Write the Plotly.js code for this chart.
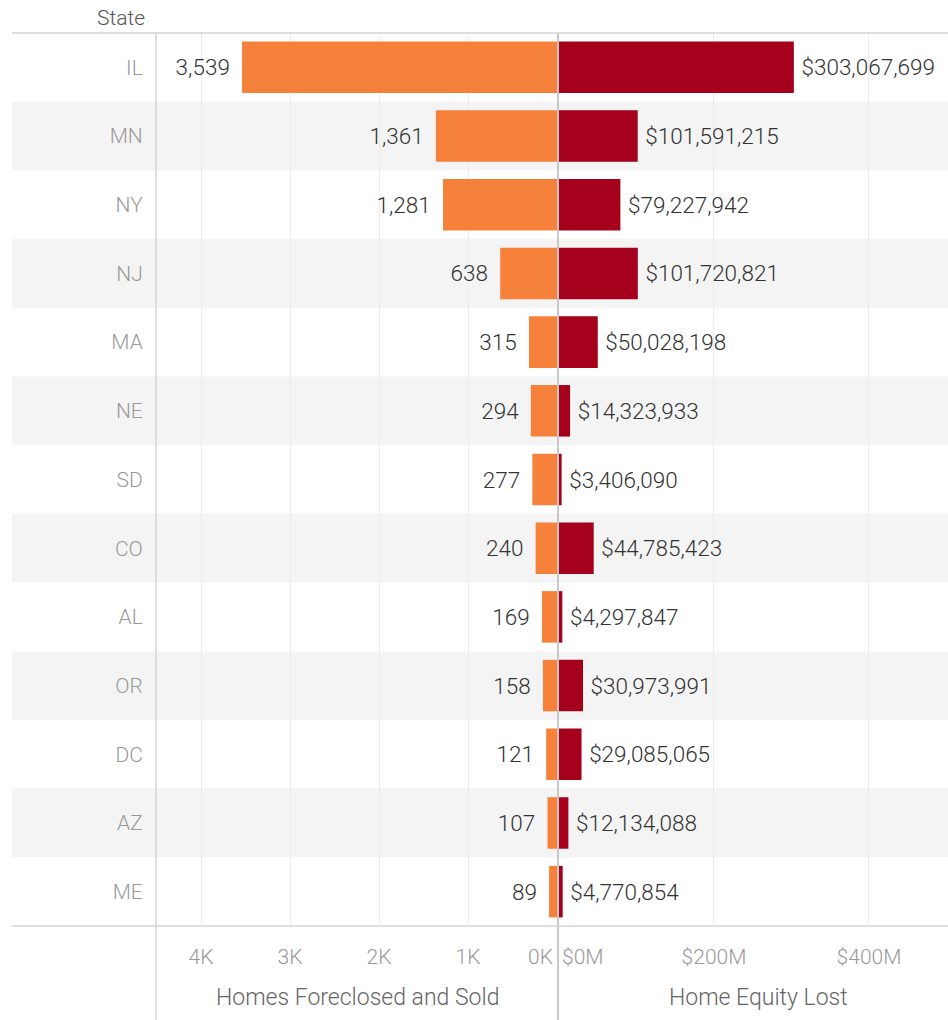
<!DOCTYPE html>
<html>
<head>
<meta charset="utf-8">
<script src="https://cdn.plot.ly/plotly-3.0.1.min.js"></script>
<style>html,body{margin:0;padding:0;background:#fff;}#chart{width:948px;height:1020px;}</style>
</head>
<body>
<div id="chart"></div>
<script>
const states = ["IL","MN","NY","NJ","MA","NE","SD","CO","AL","OR","DC","AZ","ME"];
const homesForeclosed = [3539,1361,1281,638,315,294,277,240,169,158,121,107,89];
const equityLost = [303067699,101591215,79227942,101720821,50028198,14323933,3406090,44785423,4297847,30973991,29085065,12134088,4770854];
const leftTickVals = [1000,2000,3000,4000];
const leftTickText = ["1K","2K","3K","4K"];
const rightTickVals = [200000000,400000000];
const rightTickText = ["$200M","$400M"];
const leftTitle = "Homes Foreclosed and Sold";
const rightTitle = "Home Equity Lost";
const rowHeader = "State";

const W = 948, H = 1020;
const mT = 33, mB = 94;
const plotH = H - mT - mB;
const px = v => v / W;
const FONT = "Roboto, 'Open Sans', sans-serif";
const THIN = "\u2009";

const traces = [
  {
    type: "bar", orientation: "h",
    y: states, x: homesForeclosed,
    xaxis: "x", yaxis: "y",
    marker: {color: "#F5813A"},
    width: 0.75,
    texttemplate: "%{x:,}" + THIN + THIN,
    textposition: "outside",
    cliponaxis: false,
    textfont: {family: FONT, size: 22.5, color: "#333333", weight: 300},
    hoverinfo: "skip"
  },
  {
    type: "bar", orientation: "h",
    y: states, x: equityLost,
    xaxis: "x2", yaxis: "y2",
    marker: {color: "#A5001C"},
    width: 0.75,
    texttemplate: THIN + "$%{x:,}",
    textposition: "outside",
    cliponaxis: false,
    textfont: {family: FONT, size: 22.5, color: "#333333", weight: 300},
    hoverinfo: "skip"
  }
];

const shapes = [];
states.forEach((s, i) => {
  if (i % 2 === 1) {
    shapes.push({type: "rect", xref: "paper", yref: "y", x0: px(12), x1: 1,
      y0: i - 0.5, y1: i + 0.5, fillcolor: "#f4f4f4", line: {width: 0}, layer: "below"});
  }
});
// frame lines
shapes.push({type: "line", xref: "paper", yref: "paper", x0: px(12), x1: 1, y0: 1, y1: 1, line: {color: "#d4d4d4", width: 1.5}});
shapes.push({type: "line", xref: "paper", yref: "paper", x0: px(12), x1: 1, y0: 0, y1: 0, line: {color: "#d4d4d4", width: 1.5}});
shapes.push({type: "line", xref: "paper", yref: "paper", x0: px(156), x1: px(156), y0: 1, y1: -mB / plotH, line: {color: "#d4d4d4", width: 1.5}});
shapes.push({type: "line", xref: "paper", yref: "paper", x0: px(558), x1: px(558), y0: 1, y1: -mB / plotH, line: {color: "#c8c8c8", width: 2}});

const annotations = [
  {text: rowHeader, xref: "paper", yref: "paper", x: px(147), y: 1, xanchor: "right", yanchor: "bottom", yshift: 1,
   showarrow: false, font: {family: FONT, size: 21, color: "#555555", weight: 300}},
  {text: "0K", xref: "x", yref: "paper", x: 0, y: 0, xanchor: "right", yanchor: "middle", xshift: -2, yshift: -31,
   showarrow: false, font: {family: FONT, size: 21, color: "#999999", weight: 300}},
  {text: "$0M", xref: "x2", yref: "paper", x: 0, y: 0, xanchor: "left", yanchor: "middle", xshift: 1, yshift: -31,
   showarrow: false, font: {family: FONT, size: 21, color: "#999999", weight: 300}},
  {text: leftTitle, xref: "paper", yref: "paper", x: px(357), y: 0, xanchor: "center", yanchor: "middle", yshift: -71,
   showarrow: false, font: {family: FONT, size: 23, color: "#666666", weight: 300}},
  {text: rightTitle, xref: "paper", yref: "paper", x: px(758), y: 0, xanchor: "center", yanchor: "middle", yshift: -71,
   showarrow: false, font: {family: FONT, size: 23, color: "#666666", weight: 300}}
];

const axisCommon = {
  showgrid: true, gridcolor: "#ebebeb", gridwidth: 1,
  zeroline: false, showline: false,
  ticks: "outside", ticklen: 12, tickcolor: "rgba(0,0,0,0)",
  tickfont: {family: FONT, size: 21, color: "#999999", weight: 300},
  fixedrange: true
};

const layout = {
  width: W, height: H,
  margin: {l: 0, r: 0, t: mT, b: mB, pad: 0},
  paper_bgcolor: "#ffffff", plot_bgcolor: "rgba(0,0,0,0)",
  showlegend: false,
  hovermode: false,
  font: {family: FONT},
  xaxis: Object.assign({}, axisCommon, {
    domain: [px(156), px(557)], range: [4506, 0], anchor: "y",
    tickvals: leftTickVals, ticktext: leftTickText
  }),
  xaxis2: Object.assign({}, axisCommon, {
    domain: [px(559), 1], range: [0, 502000000], anchor: "y2",
    tickvals: rightTickVals, ticktext: rightTickText
  }),
  yaxis: {
    anchor: "x", type: "category", categoryorder: "array", categoryarray: states,
    range: [12.5, -0.5], showgrid: false, zeroline: false, showline: false,
    ticks: "outside", ticklen: 8, tickcolor: "rgba(0,0,0,0)",
    tickfont: {family: FONT, size: 21, color: "#999999", weight: 300},
    fixedrange: true
  },
  yaxis2: {
    anchor: "x2", type: "category", categoryorder: "array", categoryarray: states,
    range: [12.5, -0.5], showgrid: false, zeroline: false, showline: false,
    showticklabels: false, fixedrange: true
  },
  shapes: shapes,
  annotations: annotations
};

Plotly.newPlot("chart", traces, layout, {displayModeBar: false, staticPlot: true});
</script>
</body>
</html>
